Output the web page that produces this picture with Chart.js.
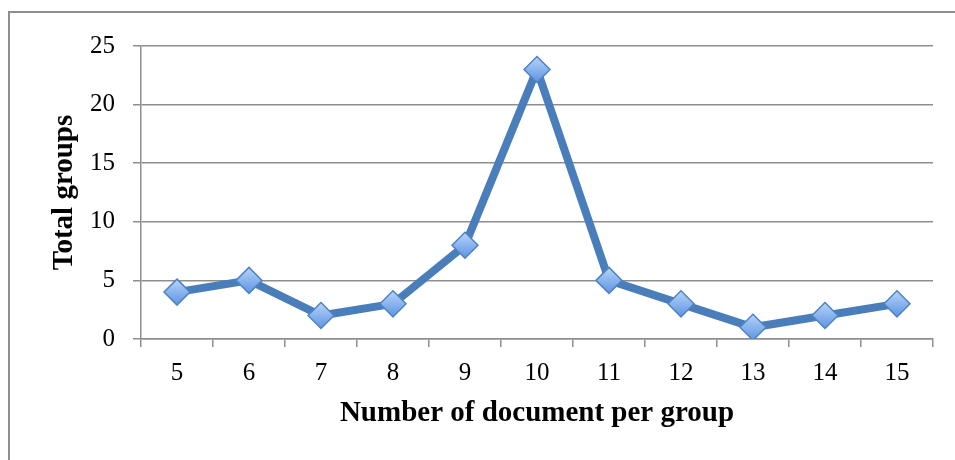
<!DOCTYPE html>
<html>
<head>
<meta charset="utf-8">
<script src="https://cdn.jsdelivr.net/npm/chart.js@4/dist/chart.umd.min.js"></script>
<style>
  html, body { margin: 0; padding: 0; background: #fff; }
  #wrap { position: relative; width: 955px; height: 460px; overflow: hidden; }
  #frame { position: absolute; left: 8px; top: 11px; width: 960px; height: 470px;
           border: 2px solid #8e8e8e; box-sizing: border-box; }
  canvas { position: absolute; left: 0; top: 0; }
</style>
</head>
<body>
<div id="wrap">
  <div id="frame"></div>
  <canvas id="c" width="955" height="460"></canvas>
</div>
<script>
// Documents per group and how many groups have that size
const categories = ['5', '6', '7', '8', '9', '10', '11', '12', '13', '14', '15'];
const totalGroups = [4, 5, 2, 3, 8, 23, 5, 3, 1, 2, 3];
const yTicks = [0, 5, 10, 15, 20, 25];

const serif = "'Liberation Serif', 'DejaVu Serif', serif";

// Diamond markers with a light-to-deeper blue vertical gradient
function markerFill(context) {
  const chart = context.chart;
  const y = chart.scales.y;
  if (!y || !context.parsed) return '#80aeea';
  const py = y.getPixelForValue(context.parsed.y);
  if (!isFinite(py)) return '#80aeea';
  const g = chart.ctx.createLinearGradient(0, py - 13, 0, py + 13);
  g.addColorStop(0, '#b9d4f6');
  g.addColorStop(0.5, '#89b4ee');
  g.addColorStop(1, '#5f94df');
  return g;
}

new Chart(document.getElementById('c'), {
  type: 'line',
  data: {
    labels: categories,
    datasets: [{
      data: totalGroups,
      borderColor: '#4a7ebb',
      borderWidth: 8,
      tension: 0,
      pointStyle: 'rectRot',
      pointRadius: 13,
      pointHoverRadius: 13,
      pointBorderWidth: 1.5,
      pointBorderColor: '#4f83c6',
      pointBackgroundColor: markerFill
    }]
  },
  options: {
    responsive: false,
    animation: false,
    events: [],
    layout: { padding: { left: 40, right: 22, top: 46, bottom: 20 } },
    plugins: { legend: { display: false }, tooltip: { enabled: false } },
    scales: {
      x: {
        offset: true,
        afterFit(s) { s.height = 460 - 20 - 339; },
        grid: { offset: true, drawOnChartArea: false, drawTicks: true, tickLength: 8, color: '#8e8e8e', lineWidth: 1.5 },
        border: { color: '#8e8e8e', width: 1.5 },
        ticks: { color: '#000', font: { family: serif, size: 25 }, padding: 11, maxRotation: 0 },
        title: { display: true, text: 'Number of document per group', color: '#000',
                 font: { family: serif, size: 29, weight: 'bold' }, padding: { top: 0, bottom: 9 } }
      },
      y: {
        min: 0, max: 25,
        afterFit(s) { s.width = 141 - 40; },
        afterBuildTicks(s) { s.ticks = yTicks.map(v => ({ value: v })); },
        grid: { color: '#8e8e8e', lineWidth: 1.5, tickLength: 8 },
        border: { color: '#8e8e8e', width: 1.5 },
        ticks: { color: '#000', font: { family: serif, size: 25 }, padding: 18 },
        title: { display: true, text: 'Total groups', color: '#000',
                 font: { family: serif, size: 29, weight: 'bold' }, padding: { top: 7, bottom: 0 } }
      }
    }
  }
});
</script>
</body>
</html>
